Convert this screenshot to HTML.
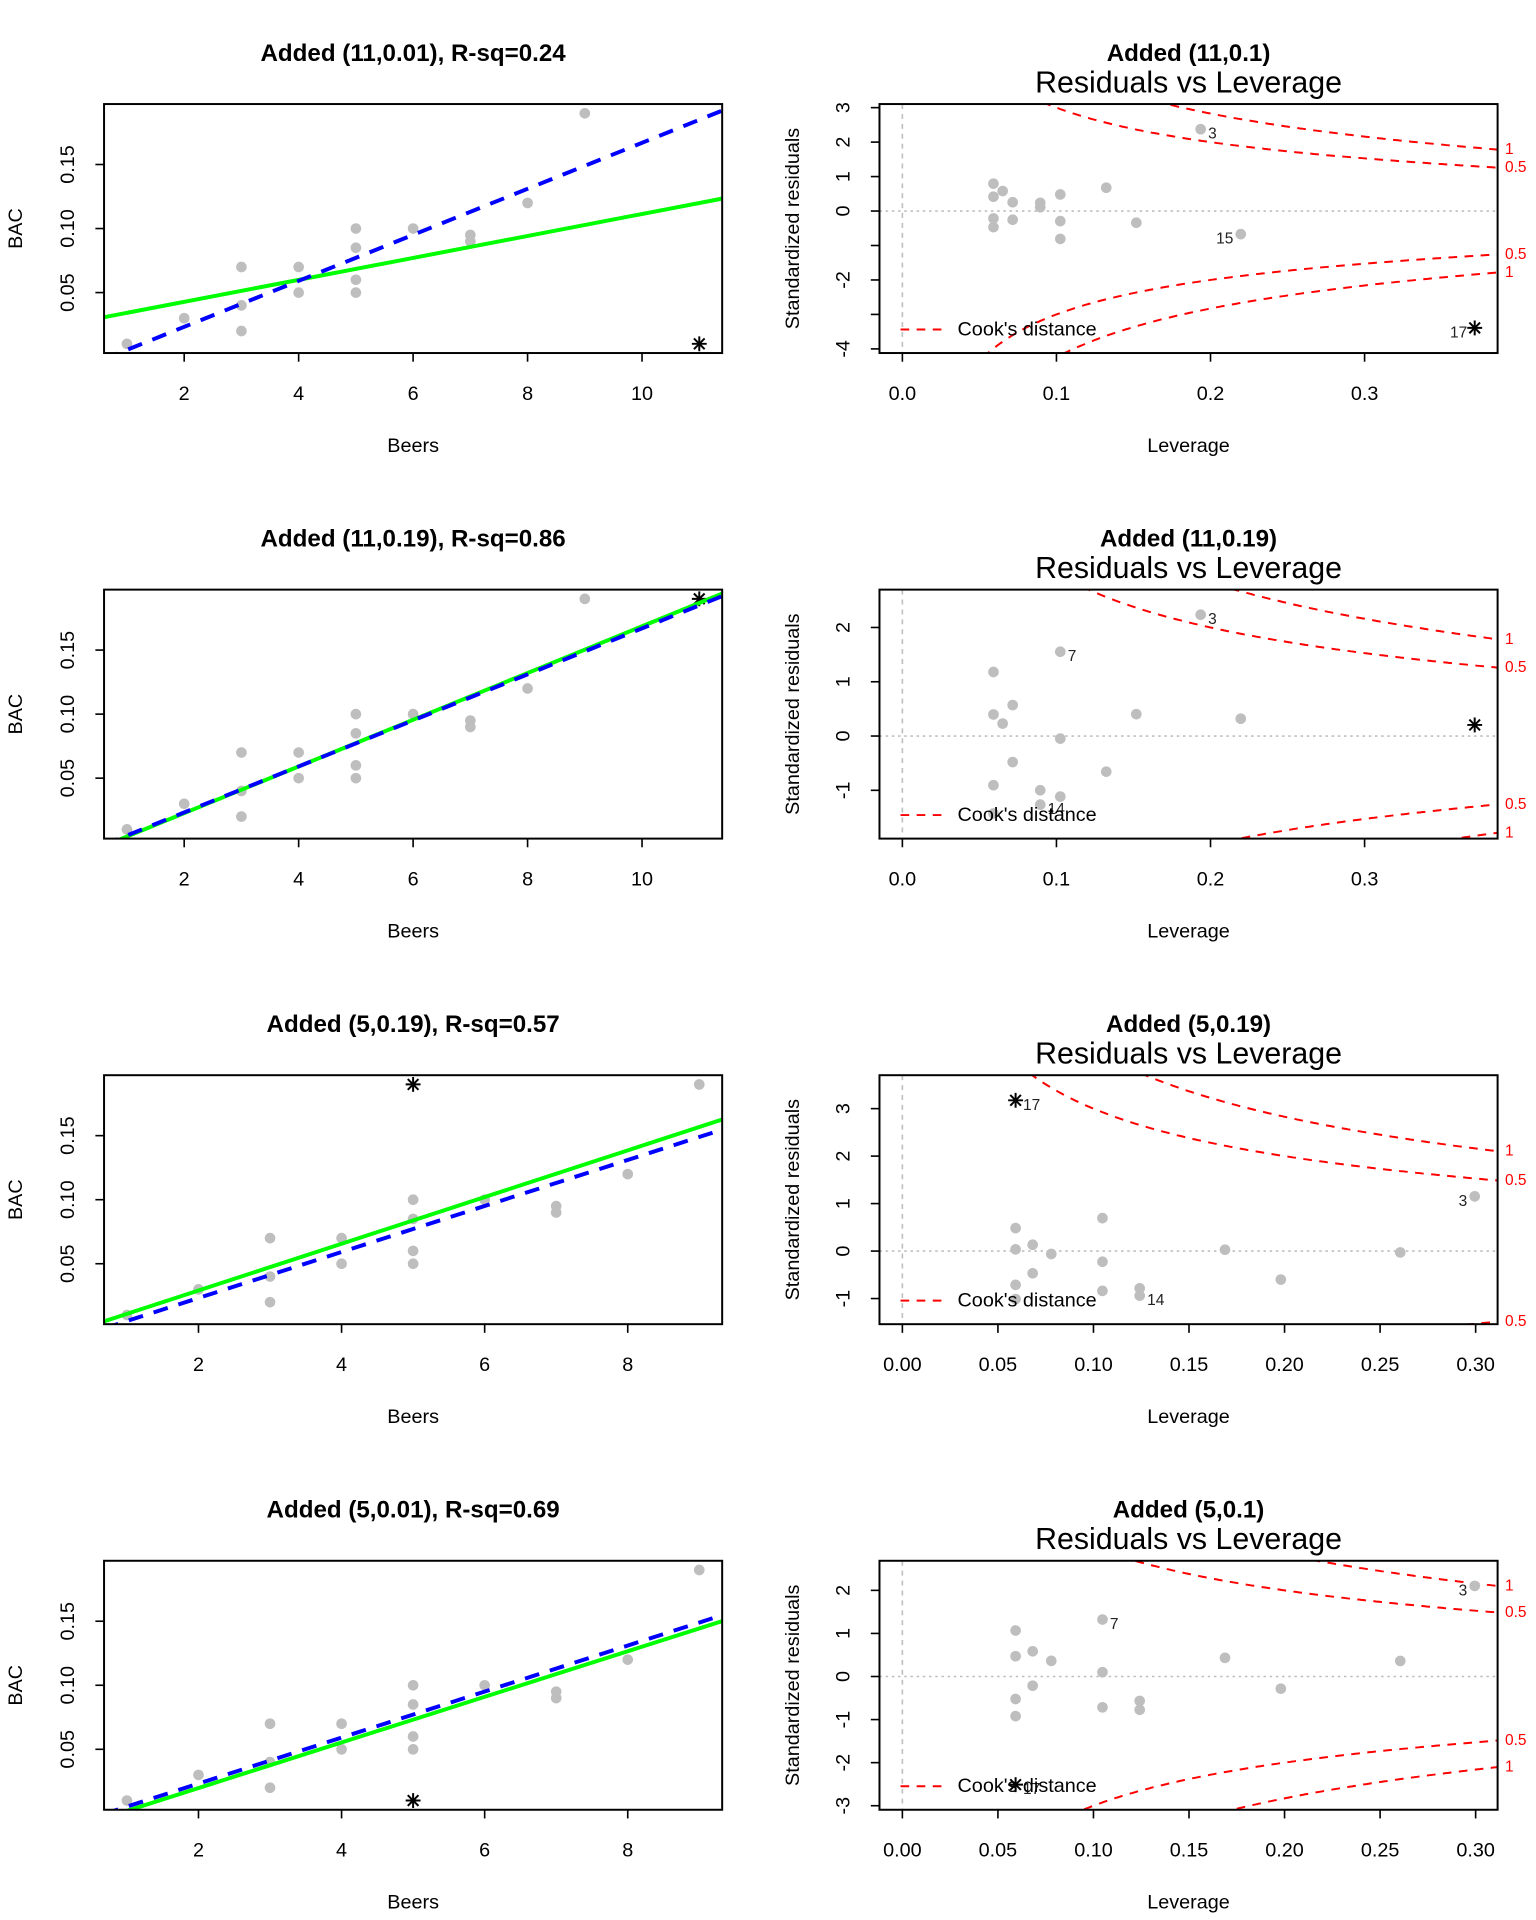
<!DOCTYPE html>
<html><head><meta charset="utf-8">
<style>
html,body{margin:0;padding:0;background:#fff;width:1536px;height:1920px;overflow:hidden;}
svg{display:block;font-family:"Liberation Sans",Arial,sans-serif;}
</style></head>
<body>
<svg id="chart" width="1536" height="1920" viewBox="0 0 1240 1550" xmlns="http://www.w3.org/2000/svg">
<rect x="0" y="0" width="1240" height="1550" fill="#fff"/>
</svg>
<script>
const beers=[5,2,9,8,3,7,3,5,3,5,4,6,5,7,1,4];
const bac=[0.1,0.03,0.19,0.12,0.04,0.095,0.07,0.06,0.02,0.05,0.07,0.1,0.085,0.09,0.01,0.05];
const addedX=[11,11,5,5];
const addedY=[0.01,0.19,0.19,0.01];
const leftTitles=["Added (11,0.01), R-sq=0.24","Added (11,0.19), R-sq=0.86","Added (5,0.19), R-sq=0.57","Added (5,0.01), R-sq=0.69"];
const rightTitles=["Added (11,0.1)","Added (11,0.19)","Added (5,0.19)","Added (5,0.1)"];
const leftXTicks=[[2,4,6,8,10],[2,4,6,8,10],[2,4,6,8],[2,4,6,8]];
const leftYTicks=[0.05,0.10,0.15];
const rightXTicks=[[0,0.1,0.2,0.3],[0,0.1,0.2,0.3],[0,0.05,0.1,0.15,0.2,0.25,0.3],[0,0.05,0.1,0.15,0.2,0.25,0.3]];
const rightXDigits=[1,1,2,2];
const rightYHidden=[[-1,-3],[],[],[]];
const cookLevels=[0.5,1];

const NS="http://www.w3.org/2000/svg";
const svg=document.getElementById('chart');
function el(tag,attrs,parent){const e=document.createElementNS(NS,tag);for(const k in attrs)e.setAttribute(k,attrs[k]);(parent||svg).appendChild(e);return e;}
function txt(s,attrs,parent){const e=el('text',attrs,parent);e.textContent=s;return e;}
function ext(a,b,f){const d=(b-a)*f;return [a-d,b+d];}
function linreg(xs,ys){const n=xs.length;const mx=xs.reduce((a,b)=>a+b)/n,my=ys.reduce((a,b)=>a+b)/n;let sxx=0,sxy=0;for(let i=0;i<n;i++){sxx+=(xs[i]-mx)**2;sxy+=(xs[i]-mx)*(ys[i]-my);}const b=sxy/sxx;return {a:my-b*mx,b:b,mx:mx,sxx:sxx};}
function asterisk(g,x,y,r,name){
  const grp=el('g',{stroke:'#000','stroke-width':1.6},g);
  
  
  el('line',{x1:x-r,y1:y,x2:x+r,y2:y},grp);
  el('line',{x1:x,y1:y-r,x2:x,y2:y+r},grp);
  const d=r*0.72;
  el('line',{x1:x-d,y1:y-d,x2:x+d,y2:y+d},grp);
  el('line',{x1:x-d,y1:y+d,x2:x+d,y2:y-d},grp);
}

const BL=84,BR=583,RL=710,RR=1209;
for(let p=0;p<4;p++){
  const top=84+392*p,bot=285+392*p,off=392*p;
  const gl=el('g',{});
  
  
  const xs=beers.concat([addedX[p]]),ys=bac.concat([addedY[p]]);
  const xl=ext(Math.min(...xs),Math.max(...xs),0.04),yl=ext(Math.min(...ys),Math.max(...ys),0.04);
  const sx=v=>BL+(v-xl[0])/(xl[1]-xl[0])*(BR-BL);
  const sy=v=>bot-(v-yl[0])/(yl[1]-yl[0])*(bot-top);
  const t1=txt(leftTitles[p],{x:(BL+BR)/2,y:43+off,'text-anchor':'middle','dominant-baseline':'central','font-size':19.5,'font-weight':'bold'},gl);
  
  const cid='clipL'+p;
  const cp=el('clipPath',{id:cid},gl);el('rect',{x:BL,y:top,width:BR-BL,height:bot-top},cp);
  const pg=el('g',{'clip-path':'url(#'+cid+')'},gl);
  for(let i=0;i<beers.length;i++){
    const c=el('circle',{cx:sx(beers[i]),cy:sy(bac[i]),r:4.3,fill:'#bebebe'},pg);
    
  }
  asterisk(pg,sx(addedX[p]),sy(addedY[p]),6,'added-point');
  const f0=linreg(beers,bac),f1=linreg(xs,ys);
  const gline=el('line',{x1:sx(xl[0]),y1:sy(f1.a+f1.b*xl[0]),x2:sx(xl[1]),y2:sy(f1.a+f1.b*xl[1]),stroke:'#00ff00','stroke-width':3.2},pg);
  
  const bline=el('line',{x1:sx(xl[0]),y1:sy(f0.a+f0.b*xl[0]),x2:sx(xl[1]),y2:sy(f0.a+f0.b*xl[1]),stroke:'#0000ff','stroke-width':3.2,'stroke-dasharray':'12,9'},pg);
  
  const box=el('rect',{x:BL,y:top,width:BR-BL,height:bot-top,fill:'none',stroke:'#000','stroke-width':1.6},gl);
  
  leftXTicks[p].forEach(v=>{
    el('line',{x1:sx(v),y1:bot,x2:sx(v),y2:bot+7,stroke:'#000','stroke-width':1.3},gl);
    const t=txt(String(v),{x:sx(v),y:318+off,'text-anchor':'middle','dominant-baseline':'central','font-size':16},gl);
    
  });
  leftYTicks.forEach(v=>{
    el('line',{x1:BL,y1:sy(v),x2:BL-7,y2:sy(v),stroke:'#000','stroke-width':1.3},gl);
    const t=txt(v.toFixed(2),{x:0,y:0,transform:`translate(55,${sy(v)}) rotate(-90)`,'text-anchor':'middle','dominant-baseline':'central','font-size':16},gl);
    
  });
  const xt=txt('Beers',{x:(BL+BR)/2,y:360+off,'text-anchor':'middle','dominant-baseline':'central','font-size':16},gl);
  
  const yt=txt('BAC',{x:0,y:0,transform:`translate(13,${(top+bot)/2}) rotate(-90)`,'text-anchor':'middle','dominant-baseline':'central','font-size':16},gl);
  

  const gr=el('g',{});
  
  
  const n=xs.length;
  const h=xs.map(x=>1/n+(x-f1.mx)**2/f1.sxx);
  const e=xs.map((x,i)=>ys[i]-(f1.a+f1.b*x));
  const s=Math.sqrt(e.reduce((a,v)=>a+v*v,0)/(n-2));
  const r=e.map((v,i)=>v/(s*Math.sqrt(1-h[i])));
  const D=r.map((v,i)=>v*v*h[i]/(2*(1-h[i])));
  const hx=ext(0,Math.max(...h),0.04);
  let yr=ext(Math.min(...r),Math.max(...r),0.08);yr=ext(yr[0],yr[1],0.04);
  const rx=v=>RL+(v-hx[0])/(hx[1]-hx[0])*(RR-RL);
  const ry=v=>bot-(v-yr[0])/(yr[1]-yr[0])*(bot-top);
  const ta=txt(rightTitles[p],{x:(RL+RR)/2,y:43+off,'text-anchor':'middle','dominant-baseline':'central','font-size':19.5,'font-weight':'bold'},gr);
  
  const tb=txt('Residuals vs Leverage',{x:(RL+RR)/2,y:67+off,'text-anchor':'middle','dominant-baseline':'central','font-size':24.5},gr);
  
  const cr='clipR'+p;
  const cp2=el('clipPath',{id:cr},gr);el('rect',{x:RL,y:top,width:RR-RL,height:bot-top},cp2);
  const rg=el('g',{'clip-path':'url(#'+cr+')'},gr);
  el('line',{x1:RL,y1:ry(0),x2:RR,y2:ry(0),stroke:'#bebebe','stroke-width':1.3,'stroke-dasharray':'2,3'},rg);
  el('line',{x1:rx(0),y1:top,x2:rx(0),y2:bot,stroke:'#bebebe','stroke-width':1.3,'stroke-dasharray':'4,4'},rg);
  const yLo=yr[0]-0.5,yHi=yr[1]+0.5;
  cookLevels.forEach(c=>{
    [1,-1].forEach(sg=>{
      let d='';
      for(let k=0;k<=400;k++){
        const hh=0.001+(hx[1]-0.001)*k/400;
        const yv=sg*Math.sqrt(c*2*(1-hh)/hh);
        if(yv<yLo||yv>yHi)continue;
        d+=(d?'L':'M')+rx(hh).toFixed(1)+','+ry(yv).toFixed(1);
      }
      if(!d)return;
      const pth=el('path',{d:d,fill:'none',stroke:'#ff0000','stroke-width':1.6,'stroke-dasharray':'7,6'},rg);
      
    });
  });
  for(let i=0;i<n;i++){
    if(i===n-1){asterisk(rg,rx(h[i]),ry(r[i]),6,'added-point');continue;}
    const c=el('circle',{cx:rx(h[i]),cy:ry(r[i]),r:4.3,fill:'#bebebe'},rg);
    
  }
  const idx=D.map((v,i)=>i).sort((a,b)=>D[b]-D[a]).slice(0,3);
  const hmid=(Math.min(...h)+Math.max(...h))/2;
  idx.forEach(i=>{
    const left=h[i]>hmid;
    const t=txt(String(i+1),{x:rx(h[i])+(left?-6:6),y:ry(r[i])+4,'text-anchor':left?'end':'start','dominant-baseline':'central','font-size':12.5,fill:'#222'},gr);
    
  });
  const box2=el('rect',{x:RL,y:top,width:RR-RL,height:bot-top,fill:'none',stroke:'#000','stroke-width':1.6},gr);
  
  rightXTicks[p].forEach(v=>{
    el('line',{x1:rx(v),y1:bot,x2:rx(v),y2:bot+7,stroke:'#000','stroke-width':1.3},gr);
    const t=txt(v.toFixed(rightXDigits[p]),{x:rx(v),y:318+off,'text-anchor':'middle','dominant-baseline':'central','font-size':16},gr);
    
  });
  for(let v=Math.ceil(yr[0]);v<=Math.floor(yr[1]);v++){
    el('line',{x1:RL,y1:ry(v),x2:RL-7,y2:ry(v),stroke:'#000','stroke-width':1.3},gr);
    if(rightYHidden[p].indexOf(v)>=0)continue;
    const t=txt(String(v),{x:0,y:0,transform:`translate(681,${ry(v)}) rotate(-90)`,'text-anchor':'middle','dominant-baseline':'central','font-size':16},gr);
    
  }
  const xmax=Math.min(0.99,hx[1]);
  cookLevels.forEach(c=>{
    const a=Math.sqrt(c*2*(1-xmax)/xmax);
    [a,-a].forEach(v=>{
      if(v<yr[0]||v>yr[1])return;
      const t=txt(String(c),{x:1215,y:ry(v),'text-anchor':'start','dominant-baseline':'central','font-size':12.5,fill:'#ff0000'},gr);
      
    });
  });
  const lg=el('g',{},gr);
  
  
  el('line',{x1:727,y1:bot-19,x2:762,y2:bot-19,stroke:'#ff0000','stroke-width':1.6,'stroke-dasharray':'7,6'},lg);
  txt("Cook's distance",{x:773,y:bot-19,'dominant-baseline':'central','font-size':16},lg);
  const xt2=txt('Leverage',{x:(RL+RR)/2,y:360+off,'text-anchor':'middle','dominant-baseline':'central','font-size':16},gr);
  
  const yt2=txt('Standardized residuals',{x:0,y:0,transform:`translate(640,${(top+bot)/2}) rotate(-90)`,'text-anchor':'middle','dominant-baseline':'central','font-size':16},gr);
  
}
</script>
</body></html>
